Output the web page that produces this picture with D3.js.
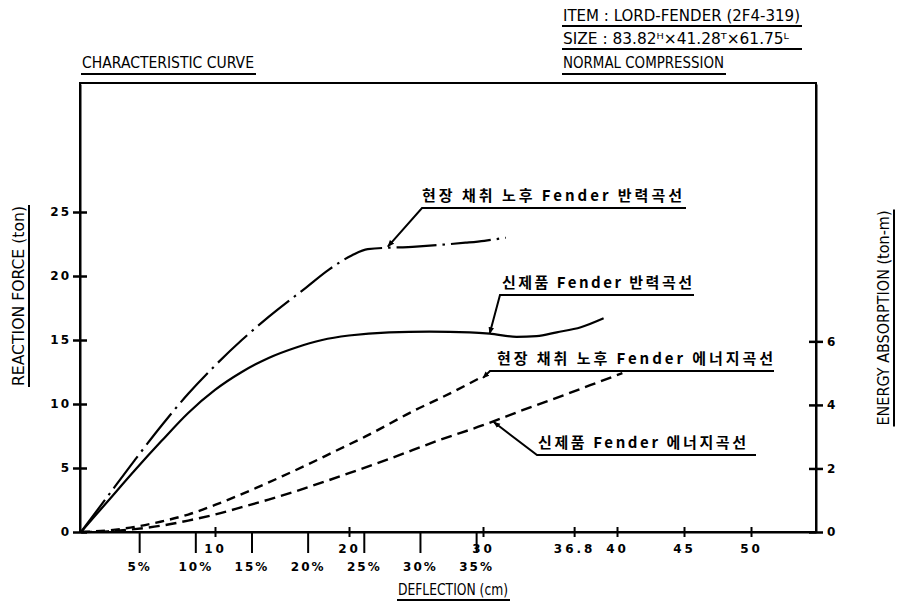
<!DOCTYPE html>
<html><head><meta charset="utf-8">
<script src="https://cdn.jsdelivr.net/npm/d3@7"></script>
<style>
body{margin:0;background:#fff;}
svg{display:block;}
.cond{font-family:'DejaVu Sans Condensed','Liberation Sans Narrow','DejaVu Sans',sans-serif;font-stretch:condensed;fill:#000;}
.kr{font-family:'Noto Sans CJK KR',sans-serif;font-weight:700;fill:#000;}
.tick text{font-family:'DejaVu Sans',sans-serif;font-weight:bold;font-size:12px;fill:#000;letter-spacing:2px;}
</style></head><body>
<svg id="c" width="899" height="610"></svg>
<script>
// ---- data ----
const cmTicks = [10, 20, 30, 36.8, 40, 45, 50];
const pctTicks = [5, 10, 15, 20, 25, 30, 35];
const forceTicks = [0, 5, 10, 15, 20, 25];
const energyTicks = [0, 2, 4, 6];
const fenderHeightCm = 83.82;

// deflection (cm), reaction force (ton) - field aged fender
const agedForce = [[0,0],[2,2.8],[4,5.6],[6,8.3],[8,10.8],[10,13.0],[12,15.0],[14,16.8],[16.8,19.1],[18.5,20.5],[20.2,21.6],[21.4,22.1],[25,22.3],[28.7,22.6],[30.1,22.75],[31.7,23.0]];
// deflection (cm), reaction force (ton) - new fender
const newForce = [[0,0],[2,2.4],[4,4.8],[6,7.1],[8,9.3],[10,11.1],[12,12.5],[14,13.6],[16,14.4],[18,15.0],[20,15.35],[23,15.6],[26,15.65],[29,15.6],[30.5,15.5],[32.5,15.25],[34,15.3],[35.5,15.6],[37.3,16.0],[39,16.7]];
// deflection (cm), energy (ton-m) - field aged fender
const agedEnergy = [[0,0],[2,0.05],[4,0.16],[6,0.33],[8,0.55],[10,0.85],[12.6,1.3],[15,1.75],[16.8,2.1],[19,2.55],[21.2,3.0],[25,3.85],[27,4.25],[30,4.9]];
// deflection (cm), energy (ton-m) - new fender
const newEnergy = [[0,0],[2,0.02],[4,0.09],[6,0.2],[8,0.36],[10,0.55],[12,0.78],[14,1.02],[16,1.28],[18,1.56],[20,1.85],[23,2.3],[26.8,2.9],[30,3.36],[33,3.84],[36,4.3],[38,4.62],[40.4,5.0]];

const labels = [
  {text:"현장 채취 노후 Fender 반력곡선", axis:"force", tip:[22.9,22.3], x:422, y:201, len:260, ux0:422, ux1:686, uy:208},
  {text:"신제품 Fender 반력곡선", axis:"force", tip:[30.5,15.5], x:502, y:288, len:190, ux0:500, ux1:694, uy:295},
  {text:"현장 채취 노후 Fender 에너지곡선", axis:"energy", tip:[30.0,4.85], x:497, y:364, len:276, ux0:490, ux1:774, uy:371},
  {text:"신제품 Fender 에너지곡선", axis:"energy", tip:[30.8,3.46], x:538, y:448, len:208, ux0:537, ux1:756, uy:455}
];

// ---- layout ----
const L=80, R=816, T=83, B=532;
const svg = d3.select("#c");
const x = d3.scaleLinear().domain([0,54.85]).range([81,816]);
const xPct = d3.scaleLinear().domain([0,100]).range([83, 83 + 13.4*fenderHeightCm]);
const yF = d3.scaleLinear().domain([0,35]).range([B,84]);
const yE = d3.scaleLinear().domain([0,14.1]).range([B,84]);

svg.append("defs").append("marker").attr("id","arr").attr("viewBox","0 0 10 10")
  .attr("refX",9).attr("refY",5).attr("markerWidth",7).attr("markerHeight",7)
  .attr("markerUnits","userSpaceOnUse").attr("orient","auto")
  .append("path").attr("d","M0,1 L10,5 L0,9 z").attr("fill","#000");

// frame
svg.append("rect").attr("x",L).attr("y",T).attr("width",R-L).attr("height",B-T)
  .attr("fill","none").attr("stroke","#000").attr("stroke-width",2);

// left axis
const ga = svg.append("g").attr("transform",`translate(${L},0)`)
  .call(d3.axisLeft(yF).tickValues(forceTicks).tickSize(7).tickSizeOuter(0).tickPadding(2));
ga.selectAll(".tick line").attr("x1",7).attr("stroke-width",2.5);

// right axis
const gr = svg.append("g").attr("transform",`translate(${R},0)`)
  .call(d3.axisRight(yE).tickValues(energyTicks).tickSize(7).tickSizeOuter(0).tickPadding(4));
gr.selectAll(".tick line").attr("x1",-7).attr("stroke-width",2.5);

// bottom cm axis
const gb = svg.append("g").attr("transform",`translate(0,${B})`)
  .call(d3.axisBottom(x).tickValues(cmTicks).tickSize(5).tickSizeOuter(0).tickPadding(7)
    .tickFormat(d=>String(d)));
gb.selectAll(".tick line").attr("y1",-5).attr("stroke-width",2);
gb.selectAll(".tick text").style("letter-spacing","3px");

// bottom percent axis
const gp = svg.append("g").attr("transform",`translate(0,${B})`)
  .call(d3.axisBottom(xPct).tickValues(pctTicks).tickSize(21).tickSizeOuter(0).tickPadding(9).tickFormat(d=>d+"%"));
gp.select(".domain").remove();
gp.selectAll(".tick line").attr("stroke-width",2);
svg.selectAll(".domain").attr("stroke-width",2);

// curves
const lineF = d3.line().x(d=>x(d[0])).y(d=>yF(d[1])).curve(d3.curveMonotoneX);
const lineE = d3.line().x(d=>x(d[0])).y(d=>yE(d[1])).curve(d3.curveMonotoneX);
svg.append("path").datum(agedForce).attr("d",lineF).attr("fill","none").attr("stroke","#000")
  .attr("stroke-width",2.2).attr("stroke-dasharray","40,6,2.5,6");
svg.append("path").datum(newForce).attr("d",lineF).attr("fill","none").attr("stroke","#000")
  .attr("stroke-width",2.2);
svg.append("path").datum(agedEnergy).attr("d",lineE).attr("fill","none").attr("stroke","#000")
  .attr("stroke-width",2.4).attr("stroke-dasharray","9,6");
svg.append("path").datum(newEnergy).attr("d",lineE).attr("fill","none").attr("stroke","#000")
  .attr("stroke-width",2.4).attr("stroke-dasharray","11,6");

// annotations
labels.forEach(a=>{
  const ys = a.axis==="force"? yF : yE;
  const tx = x(a.tip[0]), ty = ys(a.tip[1]);
  svg.append("path").attr("d",`M${a.ux1},${a.uy}L${a.ux0},${a.uy}L${tx},${ty}`)
    .attr("fill","none").attr("stroke","#000").attr("stroke-width",2).attr("marker-end","url(#arr)");
  svg.append("text").attr("class","kr").attr("x",a.x).attr("y",a.y).attr("font-size",15)
    .attr("textLength",a.len).attr("lengthAdjust","spacing").text(a.text);
});

// titles
function uText(t, x0, y0, len, ulen, size, uy){
  svg.append("text").attr("class","cond").attr("x",x0).attr("y",y0).attr("font-size",size)
    .attr("textLength",len).attr("lengthAdjust","spacingAndGlyphs").text(t);
  svg.append("line").attr("x1",x0-1).attr("x2",x0+ulen).attr("y1",uy).attr("y2",uy)
    .attr("stroke","#000").attr("stroke-width",2);
}
uText("CHARACTERISTIC CURVE", 82, 68, 172, 174, 15, 74);
uText("ITEM : LORD-FENDER (2F4-319)", 563, 21, 237, 239, 15, 26);
uText("SIZE : 83.82ᴴ×41.28ᵀ×61.75ᴸ", 563, 44, 226, 239, 15, 49);
uText("NORMAL COMPRESSION", 563, 68, 161, 163, 15, 74);

// axis titles
function vText(t, cx, cy, rot, len){
  const g = svg.append("g").attr("transform",`translate(${cx},${cy}) rotate(${rot})`);
  g.append("text").attr("class","cond").attr("x",-len/2).attr("y",0).attr("font-size",15)
    .attr("textLength",len).attr("lengthAdjust","spacingAndGlyphs").text(t);
  g.append("line").attr("x1",-len/2-1).attr("x2",len/2+1).attr("y1",5).attr("y2",5)
    .attr("stroke","#000").attr("stroke-width",2);
}
vText("REACTION FORCE (ton)", 24, 296, -90, 180);
vText("ENERGY ABSORPTION (ton-m)", 889, 318, -90, 215);
uText("DEFLECTION (cm)", 398, 595, 110, 112, 15, 600);
</script>
</body></html>
